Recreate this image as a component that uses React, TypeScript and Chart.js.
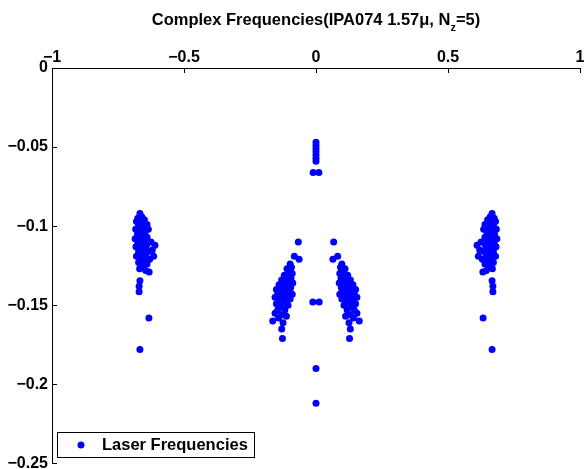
import React, { useEffect, useRef } from "react";
import { Chart, registerables } from "chart.js";

Chart.register(...registerables);

const seriesLabel = "Laser Frequencies";
const titleMain = "Complex Frequencies(IPA074 1.57\u03bc, N";
const titleSub = "z";
const titleEnd = "=5)";

const xTickValues = [-1, -0.5, 0, 0.5, 1];
const xTickLabels = ["\u22121", "\u22120.5", "0", "0.5", "1"];
const yTickValues = [-0.25, -0.2, -0.15, -0.1, -0.05, 0];
const yTickLabels = ["\u22120.25", "\u22120.2", "\u22120.15", "\u22120.1", "\u22120.05", "0"];

const outerLeft: number[][] = [
  [-0.667, -0.092], [-0.66, -0.094], [-0.675, -0.095], [-0.65, -0.096], [-0.68, -0.097],
  [-0.664, -0.098], [-0.64, -0.099], [-0.672, -0.1], [-0.655, -0.101], [-0.683, -0.102],
  [-0.635, -0.102], [-0.665, -0.103], [-0.648, -0.104], [-0.676, -0.105], [-0.658, -0.106],
  [-0.64, -0.107], [-0.685, -0.108], [-0.668, -0.108], [-0.65, -0.109], [-0.625, -0.11],
  [-0.675, -0.111], [-0.66, -0.111], [-0.61, -0.112], [-0.642, -0.112], [-0.682, -0.113],
  [-0.668, -0.114], [-0.652, -0.114], [-0.62, -0.115], [-0.635, -0.116], [-0.672, -0.116],
  [-0.66, -0.117], [-0.645, -0.118], [-0.68, -0.119], [-0.615, -0.119], [-0.665, -0.12],
  [-0.63, -0.121], [-0.65, -0.122], [-0.672, -0.123], [-0.64, -0.124], [-0.658, -0.125],
  [-0.668, -0.127], [-0.645, -0.128], [-0.632, -0.129], [-0.667, -0.1345], [-0.67, -0.138],
  [-0.67, -0.1415], [-0.633, -0.158], [-0.667, -0.178],
];

const innerLeft: number[][] = [
  [-0.067, -0.11], [-0.082, -0.119], [-0.064, -0.121], [-0.098, -0.124], [-0.093, -0.126],
  [-0.11, -0.127], [-0.1, -0.129], [-0.09, -0.13], [-0.12, -0.131], [-0.108, -0.132],
  [-0.095, -0.133], [-0.13, -0.134], [-0.115, -0.135], [-0.102, -0.136], [-0.088, -0.136],
  [-0.14, -0.137], [-0.125, -0.138], [-0.11, -0.139], [-0.096, -0.139], [-0.15, -0.14],
  [-0.135, -0.141], [-0.118, -0.141], [-0.104, -0.142], [-0.09, -0.143], [-0.145, -0.143],
  [-0.128, -0.144], [-0.112, -0.145], [-0.155, -0.145], [-0.098, -0.146], [-0.138, -0.147],
  [-0.12, -0.148], [-0.15, -0.149], [-0.106, -0.15], [-0.132, -0.151], [-0.145, -0.153],
  [-0.118, -0.153], [-0.155, -0.155], [-0.128, -0.156], [-0.112, -0.157], [-0.142, -0.158],
  [-0.164, -0.16], [-0.125, -0.161], [-0.13, -0.165], [-0.127, -0.171],
];

const centerPoints: number[][] = [
  [0, -0.047], [0, -0.049], [0, -0.051], [0, -0.053], [0, -0.055], [0, -0.057], [0, -0.059],
  [-0.011, -0.066], [0.011, -0.066], [-0.012, -0.148], [0.012, -0.148], [0, -0.19], [0, -0.212],
];

const innerRight: number[][] = [
  [0.067, -0.11], [0.082, -0.119], [0.064, -0.121], [0.098, -0.124], [0.093, -0.126],
  [0.11, -0.127], [0.1, -0.129], [0.09, -0.13], [0.12, -0.131], [0.108, -0.132],
  [0.095, -0.133], [0.13, -0.134], [0.115, -0.135], [0.102, -0.136], [0.088, -0.136],
  [0.14, -0.137], [0.125, -0.138], [0.11, -0.139], [0.096, -0.139], [0.15, -0.14],
  [0.135, -0.141], [0.118, -0.141], [0.104, -0.142], [0.09, -0.143], [0.145, -0.143],
  [0.128, -0.144], [0.112, -0.145], [0.155, -0.145], [0.098, -0.146], [0.138, -0.147],
  [0.12, -0.148], [0.15, -0.149], [0.106, -0.15], [0.132, -0.151], [0.145, -0.153],
  [0.118, -0.153], [0.155, -0.155], [0.128, -0.156], [0.112, -0.157], [0.142, -0.158],
  [0.164, -0.16], [0.125, -0.161], [0.13, -0.165], [0.127, -0.171],
];

const outerRight: number[][] = [
  [0.667, -0.092], [0.66, -0.094], [0.675, -0.095], [0.65, -0.096], [0.68, -0.097],
  [0.664, -0.098], [0.64, -0.099], [0.672, -0.1], [0.655, -0.101], [0.683, -0.102],
  [0.635, -0.102], [0.665, -0.103], [0.648, -0.104], [0.676, -0.105], [0.658, -0.106],
  [0.64, -0.107], [0.685, -0.108], [0.668, -0.108], [0.65, -0.109], [0.625, -0.11],
  [0.675, -0.111], [0.66, -0.111], [0.61, -0.112], [0.642, -0.112], [0.682, -0.113],
  [0.668, -0.114], [0.652, -0.114], [0.62, -0.115], [0.635, -0.116], [0.672, -0.116],
  [0.66, -0.117], [0.645, -0.118], [0.68, -0.119], [0.615, -0.119], [0.665, -0.12],
  [0.63, -0.121], [0.65, -0.122], [0.672, -0.123], [0.64, -0.124], [0.658, -0.125],
  [0.668, -0.127], [0.645, -0.128], [0.632, -0.129], [0.667, -0.1345], [0.67, -0.138],
  [0.67, -0.1415], [0.633, -0.158], [0.667, -0.178],
];

const FONT = "'Liberation Sans', Arial, Helvetica, sans-serif";
const BLUE = "#0000ff";

const decorPlugin = {
  id: "decor",
  afterDraw(chart: any) {
    const ctx = chart.ctx;
    const area = chart.chartArea;
    const xs = chart.scales.x;
    const ys = chart.scales.y;
    ctx.save();
    // inward ticks
    ctx.strokeStyle = "#000";
    ctx.lineWidth = 1;
    ctx.beginPath();
    xTickValues.forEach((v) => {
      const px = Math.round(xs.getPixelForValue(v)) + 0.5;
      ctx.moveTo(px, area.top);
      ctx.lineTo(px, area.top + 5);
    });
    yTickValues.forEach((v) => {
      const py = Math.round(ys.getPixelForValue(v)) + 0.5;
      ctx.moveTo(area.left, py);
      ctx.lineTo(area.left + 5, py);
    });
    ctx.stroke();

    // title with subscript
    const mainFont = "bold 16.5px " + FONT;
    const subFont = "bold 11px " + FONT;
    ctx.font = mainFont;
    const w1 = ctx.measureText(titleMain).width;
    const w3 = ctx.measureText(titleEnd).width;
    ctx.font = subFont;
    const w2 = ctx.measureText(titleSub).width;
    const total = w1 + w2 + w3;
    const cx = (area.left + area.right) / 2;
    let x = cx - total / 2;
    const base = 25;
    ctx.fillStyle = "#000";
    ctx.textBaseline = "alphabetic";
    ctx.textAlign = "left";
    ctx.font = mainFont;
    ctx.fillText(titleMain, x, base);
    x += w1;
    ctx.font = subFont;
    ctx.fillText(titleSub, x, base + 6);
    x += w2;
    ctx.font = mainFont;
    ctx.fillText(titleEnd, x, base);

    // legend box
    const lx = 57.5, ly = 432.5, lw = 197, lh = 25;
    ctx.fillStyle = "#fff";
    ctx.fillRect(lx, ly, lw, lh);
    ctx.strokeStyle = "#000";
    ctx.lineWidth = 1;
    ctx.strokeRect(lx, ly, lw, lh);
    ctx.fillStyle = BLUE;
    ctx.beginPath();
    ctx.arc(81, 445, 3.5, 0, Math.PI * 2);
    ctx.fill();
    ctx.fillStyle = "#000";
    ctx.font = "bold 16.5px " + FONT;
    ctx.textBaseline = "middle";
    ctx.fillText(seriesLabel, 102, 445.5);
    ctx.restore();
  },
};

export default function App() {
  const ref = useRef<HTMLCanvasElement | null>(null);
  useEffect(() => {
    if (!ref.current) return;
    const toPts = (a: number[][]) => a.map(([x, y]) => ({ x, y }));
    const data = [
      ...toPts(outerLeft),
      ...toPts(innerLeft),
      ...toPts(centerPoints),
      ...toPts(innerRight),
      ...toPts(outerRight),
    ];
    const chart = new Chart(ref.current, {
      type: "scatter",
      data: {
        datasets: [
          {
            label: seriesLabel,
            data,
            backgroundColor: BLUE,
            borderColor: BLUE,
            borderWidth: 0,
            pointRadius: 3.5,
            pointHoverRadius: 3.5,
          },
        ],
      },
      options: {
        animation: false,
        responsive: false,
        devicePixelRatio: 1,
        layout: { padding: { left: 0, top: 0, right: 4, bottom: 0 } },
        plugins: { legend: { display: false }, title: { display: false }, tooltip: { enabled: false } },
        scales: {
          x: {
            type: "linear",
            position: "top",
            min: -1,
            max: 1,
            grid: { display: false },
            border: { display: true, color: "#000", width: 1 },
            afterBuildTicks: (s: any) => {
              s.ticks = xTickValues.map((v) => ({ value: v }));
            },
            afterFit: (s: any) => {
              s.height = 68;
            },
            ticks: {
              color: "#000",
              font: { family: FONT, size: 16, weight: "bold" },
              padding: -7,
              maxRotation: 0,
              autoSkip: false,
              callback: (_v: any, i: number) => xTickLabels[i],
            },
          },
          y: {
            type: "linear",
            min: -0.25,
            max: 0,
            grid: { display: false },
            border: { display: true, color: "#000", width: 1 },
            afterBuildTicks: (s: any) => {
              s.ticks = yTickValues.map((v) => ({ value: v }));
            },
            afterFit: (s: any) => {
              s.width = 52;
            },
            ticks: {
              color: "#000",
              font: { family: FONT, size: 16, weight: "bold" },
              padding: -4,
              autoSkip: false,
              callback: (_v: any, i: number) => yTickLabels[i],
            },
          },
        },
      },
      plugins: [decorPlugin],
    } as any);
    return () => chart.destroy();
  }, []);
  return (
    <div style={{ position: "fixed", left: 0, top: 0, width: 584, height: 469, background: "#fff" }}>
      <canvas ref={ref} width={584} height={469} style={{ display: "block" }} />
    </div>
  );
}
